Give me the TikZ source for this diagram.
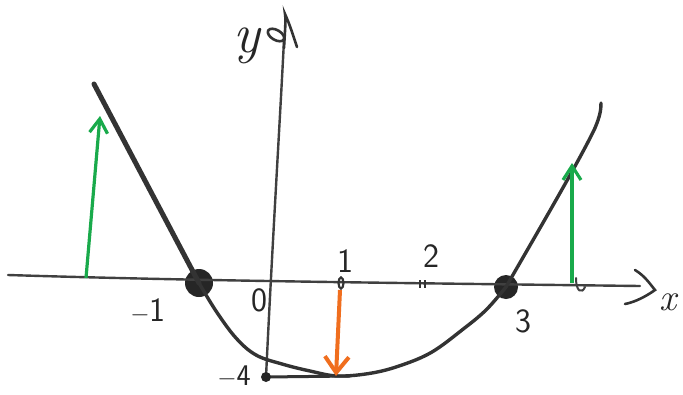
\documentclass[tikz,border=0pt]{standalone}
\usetikzlibrary{arrows.meta,shapes.geometric}
\definecolor{pengreen}{RGB}{25,170,75}
\definecolor{penorange}{RGB}{240,110,30}
\begin{document}
\begin{tikzpicture}[x=1pt,y=-1pt,
  axis/.style={draw=black!75,line width=2.4pt,line cap=round},
  curve/.style={draw=black!80,line width=3.4pt,line cap=round,line join=round},
  dot/.style={circle,fill=black!85,inner sep=0pt},
  lab/.style={font=\sffamily\fontsize{34}{34}\selectfont,text=black!85},
  garrow/.style={draw=pengreen,line width=3.2pt,-{Straight Barb[length=14pt,width=18pt,line width=3.2pt]}},
  oarrow/.style={draw=penorange,line width=4pt,-{Straight Barb[length=16pt,width=24pt,line width=4pt]}}]
\useasboundingbox (0,0) rectangle (683,394);
\fill[white] (0,0) rectangle (683,394);
% coordinates
\coordinate (xl) at (8,275);
\coordinate (xr) at (640,286);
\coordinate (yb) at (266,377);
\coordinate (yt) at (284,40);
\node[dot,minimum size=28pt] (m1) at (199,283) {};
\node[dot,minimum size=24pt] (p3) at (506,287) {};
\coordinate (vx) at (338,375);
\coordinate (lt) at (94,84);
\coordinate (rt) at (601,103);
% axes
\draw[axis] (xl) .. controls (200,281) and (400,283) .. (xr);
\draw[axis] (yb) .. controls (272,250) and (280,120) .. (yt);
\draw[black!80,line width=2.6pt,line cap=round] (635,270) .. controls (645,276) and (650,284) .. (655,290) .. controls (645,297) and (635,302) .. (625,304);
\draw[black!80,line width=2.6pt,line cap=round] (284,48) .. controls (285,30) and (286,20) .. (285,14) .. controls (290,25) and (294,38) .. (297,47);
\draw[black!80,line width=2.6pt,line cap=round,rotate around={-30:(276,35)}] (276,35) ellipse (9pt and 5pt);
% function graph
\draw[curve,line width=5pt] (lt) -- (m1.center);
\draw[curve] plot[smooth,tension=0.6] coordinates {(m1.center) (216,311) (236,338) (256,355) (282,364) (310,371) (338,376) (372,373) (402,365) (432,352) (462,330) (486,310) (p3.center)};
\draw[curve] (p3.center) .. controls (530,245) and (580,160) .. (595,128) .. controls (600,116) and (601,110) .. (rt);
\draw[curve,line width=3pt] (yb) -- (350,376);
\node[dot,minimum size=10pt] (m4) at (yb) {};
% ticks
\node[draw=black!80,line width=2.2pt,ellipse,minimum width=5pt,minimum height=11pt,inner sep=0pt] (t1) at (341,283) {};
\draw[black!80,line width=2pt] (420,280) -- (420,288) (425,280) -- (425,288);
\draw[black!75,line width=2pt,line cap=round] (576,278) .. controls (576,292) and (582,294) .. (585,287);
% arrows
\draw[garrow] (86,278) -- (100,116);
\draw[garrow] (572,283) -- (572,163);
\draw[oarrow] (340,290) -- (336,376);
% labels
\node[lab] (lm1) at (148,311) {$-$1};
\node[lab] (l0) at (259,300) {0};
\node[lab] (l1) at (345,261) {1};
\node[lab] (l2) at (431,256) {2};
\node[lab] (l3) at (523,321) {3};
\node[lab,font=\sffamily\fontsize{30}{30}\selectfont] (lm4) at (234,377) {$-$4};
\node[lab,font=\itshape\fontsize{38}{38}\selectfont] (lx) at (668,302) {x};
\node[lab,font=\itshape\fontsize{56}{56}\selectfont] (ly) at (247,46) {y};
\end{tikzpicture}
\end{document}
